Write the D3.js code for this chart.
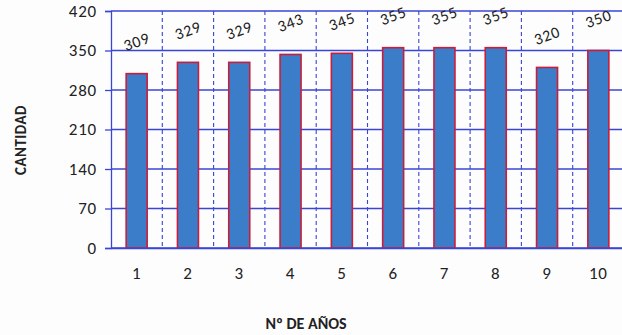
<!DOCTYPE html>
<html><head><meta charset="utf-8">
<script src="https://cdn.jsdelivr.net/npm/d3@7"></script>
<style>
body{margin:0;background:#fff;}
text{font-family:Carlito,Lato,"Open Sans",sans-serif;fill:#222;}
</style></head><body>
<svg id="c" width="622" height="335"></svg>
<script>
const categories = ["1","2","3","4","5","6","7","8","9","10"];
const values = [309,329,329,343,345,355,355,355,320,350];
const yTicks = [0,70,140,210,280,350,420];
const yTitle = "CANTIDAD";
const xTitle = "Nº DE AÑOS";

const svg = d3.select("#c");
svg.append("rect").attr("width",622).attr("height",335).attr("fill","#fdfdfd");
const L=111, R=624, T=11, B=248;
const x = d3.scaleBand().domain(categories).range([L,R]).paddingInner(0).paddingOuter(0);
const y = d3.scaleLinear().domain([0,420]).range([B,T]);
const grid="#3a45d6";

const ya = svg.append("g").attr("transform",`translate(${L},0)`).call(d3.axisLeft(y).tickValues(yTicks).tickSize(6).tickPadding(8));
ya.select(".domain").attr("stroke",grid).attr("stroke-width",1.3);
ya.selectAll(".tick line").attr("stroke",grid).attr("stroke-width",1.3);
ya.selectAll(".tick text").attr("font-size","17px").attr("letter-spacing","0.8px").attr("fill","#222");
svg.append("g").selectAll("line").data(yTicks).join("line")
  .attr("x1",L).attr("x2",R+5).attr("y1",d=>y(d)).attr("y2",d=>y(d))
  .attr("stroke",grid).attr("stroke-width",1.3);

// vertical dashed gridlines at band boundaries
svg.append("g").selectAll("line").data(categories.slice(1)).join("line")
  .attr("x1",d=>x(d)).attr("x2",d=>x(d)).attr("y1",T).attr("y2",B)
  .attr("stroke",grid).attr("stroke-width",1.1).attr("stroke-dasharray","4,3");

// bars
const bw = 21;
svg.append("g").selectAll("rect").data(values).join("rect")
  .attr("x",(d,i)=>x(categories[i])+x.bandwidth()/2-bw/2)
  .attr("y",d=>y(d)).attr("width",bw).attr("height",d=>B-y(d))
  .attr("fill","#3b7dc8").attr("stroke","#c81e3c").attr("stroke-width",1.6);

// x axis
const xa = svg.append("g").attr("transform",`translate(0,${B})`).call(d3.axisBottom(x).tickSize(0).tickPadding(19));
xa.select(".domain").attr("stroke",grid).attr("stroke-width",1.5);
xa.selectAll(".tick text").attr("font-size","17px").attr("letter-spacing","0.8px").attr("fill","#222");

// data labels
svg.append("g").selectAll("text").data(values).join("text")
  .attr("transform",(d,i)=>`translate(${x(categories[i])+x.bandwidth()/2},${y(d)-32}) rotate(-20)`)
  .attr("text-anchor","middle").attr("dominant-baseline","central")
  .attr("font-size","16px").attr("letter-spacing","0.8px").attr("fill","#333").text(d=>d);

// titles
svg.append("text").attr("transform","translate(21,140) rotate(-90)").attr("text-anchor","middle")
  .attr("dominant-baseline","central").attr("font-size","15px").attr("font-weight","bold").attr("letter-spacing","0.5px").text(yTitle);
svg.append("text").attr("x",306).attr("y",323).attr("text-anchor","middle")
  .attr("dominant-baseline","central").attr("font-size","16px").attr("font-weight","bold").text(xTitle);
</script></body></html>
